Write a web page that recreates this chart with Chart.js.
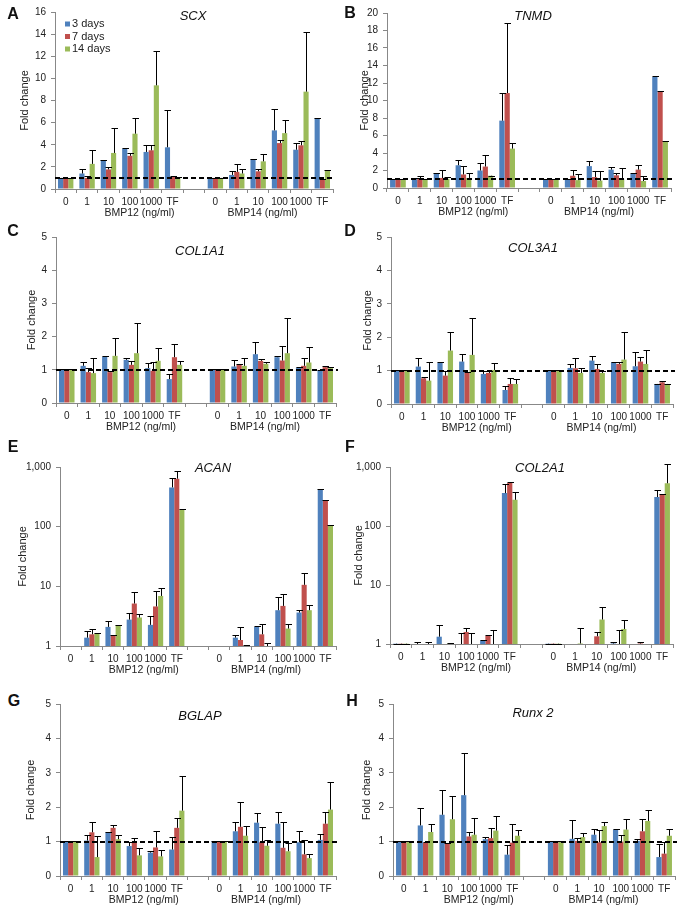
<!DOCTYPE html>
<html>
<head>
<meta charset="utf-8">
<script src="https://cdn.jsdelivr.net/npm/chart.js@4.4.1/dist/chart.umd.min.js"></script>
<style>
  body { margin: 0; background: #fff; }
  #fig { position: relative; width: 683px; height: 913px; overflow: hidden; font-family: 'Liberation Sans', Arial, sans-serif; }
  #fig canvas { position: absolute; }
  .letter { position: absolute; font-weight: bold; font-size: 16px; color: #111; transform: translate(-50%, -50%); }
  .gene { position: absolute; font-style: italic; font-size: 13px; color: #111; transform: translate(-50%, -50%); white-space: nowrap; }
</style>
</head>
<body>
<div id="fig"></div>
<script>
// categories: BMP12 doses, gap, BMP14 doses
const categories = ['0', '1', '10', '100', '1000', 'TF', '', '0', '1', '10', '100', '1000', 'TF'];
const seriesNames = ['3 days', '7 days', '14 days'];
const groups = ['BMP12 (ng/ml)', 'BMP14 (ng/ml)'];
const logTicks = [1, 10, 100, 1000];

// A - SCX (mean, and top of error bar)
const scx3 = [1, 1.4, 2.6, 3.65, 3.35, 3.77, null, 1, 1.27, 2.7, 5.3, 3.55, 6.4];
const scx3Top = [1.02, 1.8, 2.62, 3.68, 4.0, 7.1, null, 1.02, 1.62, 2.72, 7.2, 4.2, 6.42];
const scx7 = [1, 1.0, 1.77, 3.0, 3.5, 1.08, null, 1, 1.55, 1.6, 4.15, 3.95, 0.9];
const scx7Top = [1.02, 1.15, 1.95, 3.25, 4.0, 1.15, null, 1.02, 2.25, 1.8, 4.45, 4.35, 0.92];
const scx14 = [1, 2.27, 3.26, 5.0, 9.37, 1.0, null, 1, 1.4, 2.5, 5.05, 8.8, 1.7];
const scx14Top = [1.02, 3.55, 5.5, 6.45, 12.5, 1.1, null, 1.02, 1.8, 3.2, 6.2, 14.2, 1.75];

// B - TNMD
const tnmd3 = [1, 1.1, 1.7, 2.6, 2.0, 7.7, null, 1, 1.0, 2.5, 2.1, 1.6, 12.7];
const tnmd3Top = [1.02, 1.2, 1.75, 3.2, 2.9, 10.9, null, 1.02, 1.02, 3.05, 2.4, 1.75, 12.75];
const tnmd7 = [1, 1.05, 1.15, 1.55, 2.45, 10.85, null, 1, 1.4, 1.25, 1.45, 2.1, 11.0];
const tnmd7Top = [1.02, 1.4, 2.05, 2.55, 3.8, 18.9, null, 1.02, 2.1, 2.0, 1.7, 2.6, 11.05];
const tnmd14 = [1, 0.95, 1.05, 1.15, 1.4, 4.5, null, 1, 0.9, 0.85, 1.0, 0.8, 5.3];
const tnmd14Top = [1.02, 1.0, 1.25, 1.7, 1.42, 5.1, null, 1.02, 1.6, 1.9, 2.3, 1.35, 5.35];

// C - COL1A1
const col1a1_3 = [1, 1.12, 1.4, 1.3, 1.05, 0.72, null, 1, 1.1, 1.47, 1.38, 1.07, 0.97];
const col1a1_3Top = [1.02, 1.22, 1.41, 1.35, 1.2, 0.88, null, 1.02, 1.3, 1.85, 1.43, 1.08, 1.0];
const col1a1_7 = [1, 0.93, 0.93, 1.15, 0.97, 1.38, null, 1, 1.15, 1.27, 1.28, 1.12, 1.08];
const col1a1_7Top = [1.02, 1.05, 0.95, 1.28, 1.25, 1.77, null, 1.02, 1.17, 1.32, 1.73, 1.35, 1.1];
const col1a1_14 = [1, 0.9, 1.42, 1.5, 1.27, 1.15, null, 1, 1.12, 1.18, 1.5, 1.22, 1.05];
const col1a1_14Top = [1.02, 1.37, 1.97, 2.42, 1.65, 1.28, null, 1.02, 1.35, 1.25, 2.55, 1.7, 1.07];

// D - COL3A1
const col3a1_3 = [1, 1.12, 1.24, 1.27, 0.9, 0.42, null, 1, 1.08, 1.3, 1.25, 1.13, 0.6];
const col3a1_3Top = [1.02, 1.37, 1.25, 1.5, 0.98, 0.53, null, 1.02, 1.2, 1.43, 1.27, 1.57, 0.6];
const col3a1_7 = [1, 0.77, 0.85, 0.93, 0.93, 0.6, null, 1, 1.07, 1.05, 1.2, 1.27, 0.65];
const col3a1_7Top = [1.02, 0.8, 0.98, 0.97, 0.98, 0.78, null, 1.02, 1.37, 1.2, 1.25, 1.4, 0.68];
const col3a1_14 = [1, 0.7, 1.6, 1.47, 1.02, 0.6, null, 1, 0.93, 0.93, 1.33, 1.2, 0.6];
const col3a1_14Top = [1.02, 1.27, 2.17, 2.57, 1.23, 0.75, null, 1.02, 1.08, 1.0, 2.15, 1.62, 0.6];

// E - ACAN (log)
const acan3 = [1, 1.38, 2.09, 2.77, 2.26, 455, null, 1, 1.38, 2.09, 3.98, 3.64, 415];
const acan3Top = [1, 1.79, 2.63, 3.64, 3.2, 654, null, 1, 1.51, 2.13, 6.5, 3.98, 420];
const acan7 = [1, 1.57, 1.51, 5.15, 4.6, 637, null, 1, 1.26, 1.57, 4.7, 10.6, 275];
const acan7Top = [1, 1.9, 1.53, 8.1, 8.2, 857, null, 1, 2.09, 2.3, 7.4, 16.7, 278];
const acan14 = [1, 1.63, 2.23, 3.0, 6.9, 194, null, 1, 1.0, 1.0, 1.96, 3.98, 103];
const acan14Top = [1, 1.65, 2.25, 3.45, 9.3, 196, null, 1, 1.02, 1.14, 2.3, 4.9, 105];

// F - COL2A1 (log)
const col2a1_3 = [1.01, 1.0, 1.33, 1.0, 1.15, 361, null, 1.01, 1.0, 1.0, 1.02, 1.0, 310];
const col2a1_3Top = [1.01, 1.08, 2.1, 1.55, 1.16, 510, null, 1.01, 1.0, 1.0, 1.08, 1.0, 410];
const col2a1_7 = [1.01, 1.0, 1.0, 1.6, 1.37, 534, null, 1.01, 1.0, 1.35, 1.0, 1.02, 340];
const col2a1_7Top = [1.01, 1.0, 1.0, 1.85, 1.4, 550, null, 1.01, 1.0, 1.6, 1.7, 1.1, 350];
const col2a1_14 = [1.01, 1.0, 1.02, 1.0, 1.0, 278, null, 1.01, 1.02, 2.6, 1.8, 1.0, 530];
const col2a1_14Top = [1.01, 1.1, 1.03, 1.55, 1.7, 370, null, 1.01, 1.9, 4.2, 2.6, 1.0, 1130];

// G - BGLAP
const bglap3 = [1, 1.03, 1.27, 0.87, 0.68, 0.77, null, 1, 1.3, 1.55, 1.52, 0.98, 1.05];
const bglap3Top = [1.02, 1.18, 1.28, 1.0, 0.73, 1.12, null, 1.02, 1.57, 1.83, 1.87, 1.32, 1.22];
const bglap7 = [1, 1.27, 1.4, 0.98, 0.83, 1.4, null, 1, 1.43, 0.98, 0.82, 0.63, 1.52];
const bglap7Top = [1.02, 1.58, 1.48, 1.1, 1.32, 1.7, null, 1.02, 2.15, 1.43, 1.58, 1.05, 1.87];
const bglap14 = [1, 0.55, 1.07, 0.6, 0.57, 1.9, null, 1, 1.17, 0.88, 0.72, 0.52, 1.93];
const bglap14Top = [1.02, 1.17, 1.18, 0.8, 0.77, 2.9, null, 1.02, 1.45, 1.05, 0.97, 0.65, 2.73];

// H - Runx 2
const runx3 = [1, 1.47, 1.78, 2.35, 1.07, 0.62, null, 1, 1.08, 1.2, 1.35, 1.02, 0.55];
const runx3Top = [1.02, 1.97, 2.5, 3.57, 1.13, 0.9, null, 1.02, 1.62, 1.37, 1.36, 1.08, 0.93];
const runx7 = [1, 0.97, 0.95, 1.15, 1.1, 0.97, null, 1, 1.02, 0.98, 1.0, 1.3, 0.65];
const runx7Top = [1.02, 1.0, 0.97, 1.27, 1.4, 1.52, null, 1.02, 1.1, 1.35, 1.2, 1.67, 1.0];
const runx14 = [1, 1.28, 1.65, 1.2, 1.32, 1.17, null, 1, 1.13, 1.45, 1.35, 1.6, 1.17];
const runx14Top = [1.02, 1.52, 2.33, 1.7, 1.75, 1.35, null, 1.02, 1.25, 1.57, 1.67, 1.93, 1.38];

const seriesColors = ['#4F81BD', '#C0504D', '#9BBB59'];
const axisGray = '#888888';
const textColor = '#222222';
const fontFamily = "'Liberation Sans', Arial, sans-serif";
const groupCentres = [3.45, 9.2];

// box = canvas [left, top, right, bottom], plot = chart area, page pixels
const panels = [
  { letter: 'A', gene: 'SCX', data: [scx3, scx7, scx14], tops: [scx3Top, scx7Top, scx14Top], yMax: 16, yStep: 2,
    box: [18, 0, 340, 225], plot: [55, 12, 333, 189], letterAt: [13, 14], geneAt: [193, 15], legend: true },
  { letter: 'B', gene: 'TNMD', data: [tnmd3, tnmd7, tnmd14], tops: [tnmd3Top, tnmd7Top, tnmd14Top], yMax: 20, yStep: 2,
    box: [358, 0, 683, 225], plot: [387, 13, 671, 188], letterAt: [350, 13], geneAt: [533, 15] },
  { letter: 'C', gene: 'COL1A1', data: [col1a1_3, col1a1_7, col1a1_14], tops: [col1a1_3Top, col1a1_7Top, col1a1_14Top], yMax: 5, yStep: 1,
    box: [25, 226, 340, 440], plot: [56, 236, 336, 403], letterAt: [13, 231], geneAt: [200, 250] },
  { letter: 'D', gene: 'COL3A1', data: [col3a1_3, col3a1_7, col3a1_14], tops: [col3a1_3Top, col3a1_7Top, col3a1_14Top], yMax: 5, yStep: 1,
    box: [361, 226, 683, 440], plot: [391, 235, 673, 404], letterAt: [350, 231], geneAt: [533, 247] },
  { letter: 'E', gene: 'ACAN', data: [acan3, acan7, acan14], tops: [acan3Top, acan7Top, acan14Top], log: true,
    box: [16, 455, 340, 680], plot: [60, 467, 336, 646], letterAt: [13, 447], geneAt: [213, 467] },
  { letter: 'F', gene: 'COL2A1', data: [col2a1_3, col2a1_7, col2a1_14], tops: [col2a1_3Top, col2a1_7Top, col2a1_14Top], log: true,
    box: [352, 455, 683, 680], plot: [390, 467, 673, 644], letterAt: [350, 447], geneAt: [540, 467] },
  { letter: 'G', gene: 'BGLAP', data: [bglap3, bglap7, bglap14], tops: [bglap3Top, bglap7Top, bglap14Top], yMax: 5, yStep: 1,
    box: [24, 690, 340, 913], plot: [60, 704, 336, 876], letterAt: [14, 701], geneAt: [200, 715] },
  { letter: 'H', gene: 'Runx 2', data: [runx3, runx7, runx14], tops: [runx3Top, runx7Top, runx14Top], yMax: 5, yStep: 1,
    box: [360, 690, 683, 913], plot: [393, 704, 675, 876], letterAt: [352, 701], geneAt: [533, 712] }
];

// error bars: line from bar top up to the stored top value, with a cap
const errorBars = {
  id: 'errorBars',
  afterDatasetsDraw(chart) {
    const ctx = chart.ctx;
    const yScale = chart.scales.y;
    ctx.save();
    ctx.strokeStyle = '#000';
    ctx.lineWidth = 1;
    chart.data.datasets.forEach((ds, i) => {
      const meta = chart.getDatasetMeta(i);
      meta.data.forEach((bar, j) => {
        const v = ds.data[j];
        const top = ds.tops[j];
        if (v == null || (top <= v && v <= yScale.min)) return;
        const x = Math.round(bar.x) + 0.5;
        const y0 = yScale.getPixelForValue(v);
        const y1 = Math.round(yScale.getPixelForValue(top)) + 0.5;
        ctx.beginPath();
        ctx.moveTo(x, y0);
        ctx.lineTo(x, y1);
        ctx.moveTo(x - 3, y1);
        ctx.lineTo(x + 3.5, y1);
        ctx.stroke();
      });
    });
    ctx.restore();
  }
};

// dashed line at fold change = 1
const refLine = {
  id: 'refLine',
  afterDatasetsDraw(chart, args, opts) {
    if (!opts.show) return;
    const {ctx, chartArea} = chart;
    const y = Math.round(chart.scales.y.getPixelForValue(1));
    ctx.save();
    ctx.setLineDash([5, 3]);
    ctx.lineWidth = 2;
    ctx.strokeStyle = '#000';
    ctx.beginPath();
    ctx.moveTo(chartArea.left, y);
    ctx.lineTo(chartArea.right + 2, y);
    ctx.stroke();
    ctx.restore();
  }
};

// BMP12 / BMP14 labels under the dose ticks
const groupLabels = {
  id: 'groupLabels',
  afterDraw(chart) {
    const ctx = chart.ctx;
    const xScale = chart.scales.x;
    ctx.save();
    ctx.font = '10.5px ' + fontFamily;
    ctx.fillStyle = textColor;
    ctx.textAlign = 'center';
    ctx.textBaseline = 'middle';
    groups.forEach((g, i) => {
      ctx.fillText(g, xScale.getPixelForValue(groupCentres[i]), xScale.top + 24);
    });
    ctx.restore();
  }
};

// small legend inside the plot (panel A only)
const legendBox = {
  id: 'legendBox',
  afterDraw(chart, args, opts) {
    if (!opts.show) return;
    const {ctx, chartArea} = chart;
    ctx.save();
    ctx.font = '11px ' + fontFamily;
    ctx.textBaseline = 'middle';
    chart.data.datasets.forEach((ds, i) => {
      const y = chartArea.top + 12 + i * 12.5;
      ctx.fillStyle = ds.backgroundColor;
      ctx.fillRect(chartArea.left + 10, y - 2.5, 5, 5);
      ctx.fillStyle = textColor;
      ctx.fillText(ds.label, chartArea.left + 17, y);
    });
    ctx.restore();
  }
};

const fig = document.getElementById('fig');

panels.forEach(p => {
  const [bl, bt, br, bb] = p.box;
  const [pl, pt, pr, pb] = p.plot;
  const canvas = document.createElement('canvas');
  canvas.width = br - bl;
  canvas.height = bb - bt;
  canvas.style.left = bl + 'px';
  canvas.style.top = bt + 'px';
  fig.appendChild(canvas);

  const yAxis = p.log ? {
    type: 'logarithmic',
    min: 1,
    max: 1000,
    afterBuildTicks: s => { s.ticks = logTicks.map(v => ({value: v})); },
    ticks: { callback: v => v.toLocaleString('en-US') }
  } : {
    type: 'linear',
    min: 0,
    max: p.yMax,
    ticks: { stepSize: p.yStep }
  };
  Object.assign(yAxis.ticks, { color: textColor, font: { size: 10, family: fontFamily }, padding: 5 });
  yAxis.grid = { drawOnChartArea: false, tickLength: 4, color: axisGray };
  yAxis.border = { color: axisGray };
  yAxis.title = { display: true, text: 'Fold change', color: textColor, padding: 0, font: { size: 11, family: fontFamily } };
  yAxis.afterFit = s => { s.width = pl - bl; };

  new Chart(canvas.getContext('2d'), {
    type: 'bar',
    data: {
      labels: categories,
      datasets: p.data.map((d, i) => ({
        label: seriesNames[i],
        data: d,
        tops: p.tops[i],
        backgroundColor: seriesColors[i],
        borderWidth: 0,
        categoryPercentage: 0.72,
        barPercentage: 1
      }))
    },
    options: {
      responsive: false,
      animation: false,
      devicePixelRatio: 1,
      layout: { padding: { left: 0, top: pt - bt, right: br - pr, bottom: 0 } },
      plugins: {
        legend: { display: false },
        tooltip: { enabled: false },
        refLine: { show: !p.log },
        legendBox: { show: !!p.legend }
      },
      scales: {
        x: {
          ticks: { autoSkip: false, maxRotation: 0, minRotation: 0, padding: 3, color: textColor, font: { size: 10, family: fontFamily } },
          grid: { drawOnChartArea: false, tickLength: 4, color: axisGray },
          border: { color: axisGray },
          afterFit: s => { s.height = bb - pb; }
        },
        y: yAxis
      }
    },
    plugins: [errorBars, refLine, groupLabels, legendBox]
  });

  const letter = document.createElement('div');
  letter.className = 'letter';
  letter.textContent = p.letter;
  letter.style.left = p.letterAt[0] + 'px';
  letter.style.top = p.letterAt[1] + 'px';
  fig.appendChild(letter);

  const gene = document.createElement('div');
  gene.className = 'gene';
  gene.textContent = p.gene;
  gene.style.left = p.geneAt[0] + 'px';
  gene.style.top = p.geneAt[1] + 'px';
  fig.appendChild(gene);
});
</script>
</body>
</html>
